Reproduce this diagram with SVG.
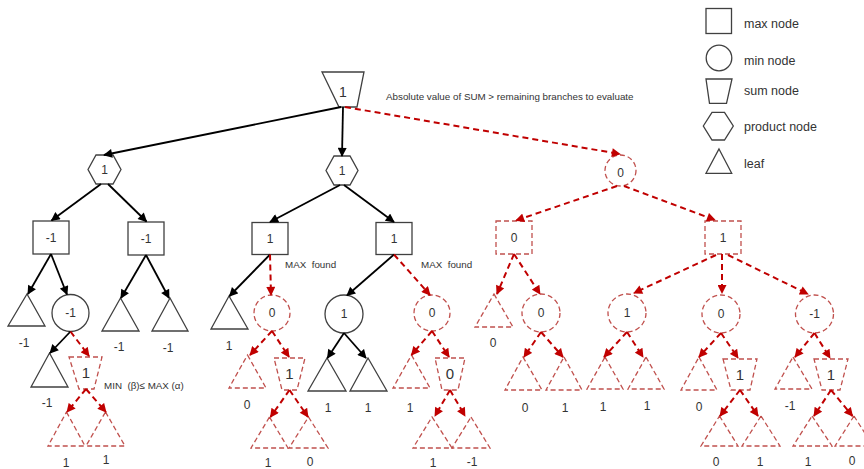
<svg xmlns="http://www.w3.org/2000/svg" width="864" height="469" viewBox="0 0 864 469">
<defs>
<style>
.s{fill:#fff;stroke:#404040;stroke-width:1.3}
.d{fill:#fff;stroke:#c0504d;stroke-width:1.3;stroke-dasharray:5 3}
.v{font-family:"Liberation Sans",Arial,sans-serif;font-size:12px;fill:#333;text-anchor:middle}
.vb{font-family:"Liberation Sans",Arial,sans-serif;font-size:15px;fill:#333;text-anchor:middle}
.t{font-family:"Liberation Sans",Arial,sans-serif;font-size:9.8px;fill:#333}
.lg{font-family:"Liberation Sans",Arial,sans-serif;font-size:12.5px;fill:#333}
.a{stroke:#000;stroke-width:1.8;fill:none;marker-end:url(#ab)}
.r{stroke:#c00000;stroke-width:2;fill:none;stroke-dasharray:6 4;marker-end:url(#ar)}
</style>
<marker id="ab" viewBox="0 0 10 10" refX="9" refY="5" markerWidth="10" markerHeight="9" markerUnits="userSpaceOnUse" orient="auto"><path d="M0,0 L10,5 L0,10 z" fill="#000"/></marker>
<marker id="ar" viewBox="0 0 10 10" refX="9" refY="5" markerWidth="10" markerHeight="9" markerUnits="userSpaceOnUse" orient="auto"><path d="M0,0 L10,5 L0,10 z" fill="#c00000"/></marker>
</defs>
<rect width="864" height="469" fill="#fff"/>

<!-- legend -->
<g id="legend">
<rect class="s" x="706" y="8.5" width="25.5" height="25"/>
<text class="lg" x="744" y="28">max node</text>
<circle class="s" cx="719" cy="58" r="12.8"/>
<text class="lg" x="744" y="64.5">min node</text>
<polygon class="s" points="706,79 732,79 726.5,103.3 709.5,103.3"/>
<text class="lg" x="744" y="94.5">sum node</text>
<polygon class="s" points="703.3,126 712,112.3 724.5,112.3 733.3,126 724.5,140 712,140"/>
<text class="lg" x="744" y="131">product node</text>
<polygon class="s" points="719,149 731.7,173.3 706,173.3"/>
<text class="lg" x="744" y="168">leaf</text>
</g>

<!-- nodes -->
<g id="root"><polygon class="s" points="322,72 364,72 357,107 339,107"/><text class="v" style="font-size:14px" x="343" y="97">1</text></g>
<g id="hexL"><polygon class="s" points="88,169.5 96,155 113,155 121,169.5 113,184 96,184"/><text class="v" x="104.5" y="174">1</text></g>
<g id="hexM"><polygon class="s" points="326,170.5 334,156 350,156 358,170.5 350,185 334,185"/><text class="v" x="342" y="175">1</text></g>
<g id="minTop"><circle class="d" cx="620.5" cy="170.5" r="15.5"/><text class="v" x="620.5" y="177">0</text></g>

<g id="b1"><rect class="s" x="33" y="221" width="36" height="33"/><text class="v" x="51" y="242">-1</text></g>
<g id="b2"><rect class="s" x="128" y="222" width="36" height="33"/><text class="v" x="146" y="243">-1</text></g>
<g id="b3"><rect class="s" x="252" y="222.5" width="36" height="32"/><text class="v" x="270" y="243">1</text></g>
<g id="b4"><rect class="s" x="376" y="222.5" width="36" height="32"/><text class="v" x="394" y="243">1</text></g>
<g id="b5"><rect class="d" x="496" y="221" width="36" height="33"/><text class="v" x="514" y="242">0</text></g>
<g id="b6"><rect class="d" x="705" y="221" width="36" height="33"/><text class="v" x="723" y="242">1</text></g>

<g id="t1"><polygon class="s" points="27,294 45,326 8,326"/><text class="v" x="24" y="347">-1</text></g>
<g id="c1"><circle class="s" cx="70.5" cy="313" r="18.5"/><text class="v" x="70.5" y="317">-1</text></g>
<g id="t2"><polygon class="s" points="120.5,298 139,331 102,331"/><text class="v" x="119" y="351">-1</text></g>
<g id="t3"><polygon class="s" points="170,298 188,331 152,331"/><text class="v" x="168" y="352">-1</text></g>
<g id="t4"><polygon class="s" points="229,296 248,329 211,329"/><text class="v" x="229" y="350">1</text></g>
<g id="c2"><circle class="d" cx="272" cy="313" r="18"/><text class="v" x="272" y="317">0</text></g>
<g id="c3"><circle class="s" cx="344" cy="314" r="19"/><text class="v" x="344" y="318">1</text></g>
<g id="c4"><circle class="d" cx="432" cy="313" r="18"/><text class="v" x="432" y="317">0</text></g>
<g id="t5"><polygon class="d" points="494,294 513,327 475,327"/><text class="v" x="493" y="347">0</text></g>
<g id="c5"><circle class="d" cx="541" cy="313" r="19"/><text class="v" x="541" y="317">0</text></g>
<g id="c6"><circle class="d" cx="627" cy="313" r="19"/><text class="v" x="627" y="317">1</text></g>
<g id="c7"><circle class="d" cx="721" cy="314" r="19"/><text class="v" x="721" y="318">0</text></g>
<g id="c8"><circle class="d" cx="814.5" cy="314" r="19"/><text class="v" x="814.5" y="318">-1</text></g>

<g id="t6"><polygon class="s" points="49.5,353 68,387 31,387"/><text class="v" x="47" y="407">-1</text></g>
<g id="s1"><polygon class="d" points="69,357 102,357 94,389 79,389"/><text class="vb" x="86" y="378">1</text></g>
<g id="t7"><polygon class="d" points="247.5,355 266,388 229,388"/><text class="v" x="247" y="409">0</text></g>
<g id="s2"><polygon class="d" points="274,358 305,358 297,390 282,390"/><text class="vb" x="289.5" y="379">1</text></g>
<g id="t8"><polygon class="s" points="327,358 346,391 308,391"/><text class="v" x="328" y="412">1</text></g>
<g id="t9"><polygon class="s" points="368,358 387,391 350,391"/><text class="v" x="368" y="412">1</text></g>
<g id="t10"><polygon class="d" points="411.5,355 430,388 393,388"/><text class="v" x="410" y="412">1</text></g>
<g id="s3"><polygon class="d" points="435,358 465,358 458,390 442,390"/><text class="vb" x="450" y="379">0</text></g>
<g id="t11"><polygon class="d" points="523,357 542,390 505,390"/><text class="v" x="525" y="412">0</text></g>
<g id="t12"><polygon class="d" points="564,357 582,390 546,390"/><text class="v" x="565" y="412">1</text></g>
<g id="t13"><polygon class="d" points="605,357 623,389 587,389"/><text class="v" x="603" y="411">1</text></g>
<g id="t14"><polygon class="d" points="646,357 664,389 628,389"/><text class="v" x="647" y="410">1</text></g>
<g id="t15"><polygon class="d" points="699,357 717,390 681,390"/><text class="v" x="699" y="411">0</text></g>
<g id="s4"><polygon class="d" points="723,359 757,359 750,390 731,390"/><text class="vb" x="740" y="380">1</text></g>
<g id="t16"><polygon class="d" points="793,357 812,389 775,389"/><text class="v" x="790" y="410">-1</text></g>
<g id="s5"><polygon class="d" points="814,359 848,359 840,390 822,390"/><text class="vb" x="831" y="380">1</text></g>

<g id="t17"><polygon class="d" points="66.5,412 85,446 48,446"/><text class="v" x="66" y="467">1</text></g>
<g id="t18"><polygon class="d" points="105.5,412 125,446 86,446"/><text class="v" x="106" y="464">1</text></g>
<g id="t19"><polygon class="d" points="269.5,417 288,448 251,448"/><text class="v" x="268" y="467">1</text></g>
<g id="t20"><polygon class="d" points="308.5,417 328,448 289,448"/><text class="v" x="310" y="466">0</text></g>
<g id="t21"><polygon class="d" points="432,417 452,448 413,448"/><text class="v" x="433" y="467">1</text></g>
<g id="t22"><polygon class="d" points="471,417 490,448 452,448"/><text class="v" x="472" y="466">-1</text></g>
<g id="t23"><polygon class="d" points="719.5,416 738,446 701,446"/><text class="v" x="716" y="466">0</text></g>
<g id="t24"><polygon class="d" points="761,416 780,446 742,446"/><text class="v" x="760" y="466">1</text></g>
<g id="t25"><polygon class="d" points="812,416 832,446 793,446"/><text class="v" x="808" y="466">1</text></g>
<g id="t26"><polygon class="d" points="854,416 873,446 835,446"/><text class="v" x="852" y="465">0</text></g>

<!-- annotations -->
<g id="notes">
<text class="t" x="386" y="100">Absolute value of SUM &gt; remaining branches to evaluate</text>
<text class="t" x="285" y="268" xml:space="preserve">MAX  found</text>
<text class="t" x="421" y="268" xml:space="preserve">MAX  found</text>
<text class="t" x="104" y="389" xml:space="preserve">MIN  (β)≤ MAX (α)</text>
</g>

<!-- connectors -->
<g id="connectors">
<line class="a" x1="341" y1="107" x2="104" y2="155"/>
<line class="a" x1="343" y1="107" x2="342" y2="156"/>
<line class="r" x1="345" y1="107" x2="620" y2="154"/>
<line class="a" x1="101" y1="184" x2="51.5" y2="220.5"/>
<line class="a" x1="108" y1="184" x2="146.5" y2="221.5"/>
<line class="a" x1="340" y1="185" x2="270" y2="222"/>
<line class="a" x1="344" y1="185" x2="394" y2="222"/>
<line class="r" x1="617" y1="186" x2="516" y2="220.5"/>
<line class="r" x1="624" y1="186" x2="715" y2="220"/>

<line class="a" x1="51" y1="254" x2="28" y2="294"/>
<line class="a" x1="51" y1="254" x2="67" y2="294.5"/>
<line class="a" x1="146" y1="255" x2="121" y2="298"/>
<line class="a" x1="146" y1="255" x2="169" y2="298"/>
<line class="a" x1="270" y1="254.5" x2="229.5" y2="296"/>
<line class="r" x1="270" y1="254.5" x2="271" y2="295"/>
<line class="a" x1="394" y1="254.5" x2="347" y2="295.5"/>
<line class="r" x1="394" y1="254.5" x2="430" y2="295"/>
<line class="r" x1="514" y1="254" x2="497" y2="294"/>
<line class="r" x1="514" y1="254" x2="540" y2="294"/>
<line class="r" x1="716" y1="255" x2="634" y2="293"/>
<line class="r" x1="722" y1="254" x2="722" y2="293"/>
<line class="r" x1="728" y1="255" x2="808" y2="294"/>

<line class="a" x1="70.5" y1="331.5" x2="50" y2="353"/>
<line class="r" x1="70.5" y1="331.5" x2="89" y2="356"/>
<line class="r" x1="272" y1="331" x2="250" y2="355"/>
<line class="r" x1="272" y1="331" x2="289" y2="357"/>
<line class="a" x1="344" y1="333" x2="327.5" y2="358"/>
<line class="a" x1="344" y1="333" x2="366" y2="358"/>
<line class="r" x1="432" y1="331" x2="411.5" y2="355"/>
<line class="r" x1="432" y1="331" x2="449" y2="357"/>
<line class="r" x1="541" y1="332" x2="524" y2="357"/>
<line class="r" x1="541" y1="332" x2="563" y2="357"/>
<line class="r" x1="627" y1="332" x2="604" y2="357"/>
<line class="r" x1="627" y1="332" x2="643" y2="357"/>
<line class="r" x1="721" y1="333" x2="699" y2="357"/>
<line class="r" x1="721" y1="333" x2="738" y2="358"/>
<line class="r" x1="814.5" y1="333" x2="795" y2="357"/>
<line class="r" x1="814.5" y1="333" x2="830" y2="358"/>

<line class="r" x1="86" y1="389" x2="67" y2="412"/>
<line class="r" x1="86" y1="389" x2="106" y2="412"/>
<line class="r" x1="289.5" y1="390" x2="270.5" y2="417"/>
<line class="r" x1="289.5" y1="390" x2="308" y2="417"/>
<line class="r" x1="450" y1="390" x2="435" y2="416"/>
<line class="r" x1="450" y1="390" x2="465" y2="416"/>
<line class="r" x1="740" y1="390" x2="720" y2="416"/>
<line class="r" x1="740" y1="390" x2="758" y2="416"/>
<line class="r" x1="831" y1="390" x2="814" y2="416"/>
<line class="r" x1="831" y1="390" x2="852.5" y2="416"/>
</g>
</svg>
